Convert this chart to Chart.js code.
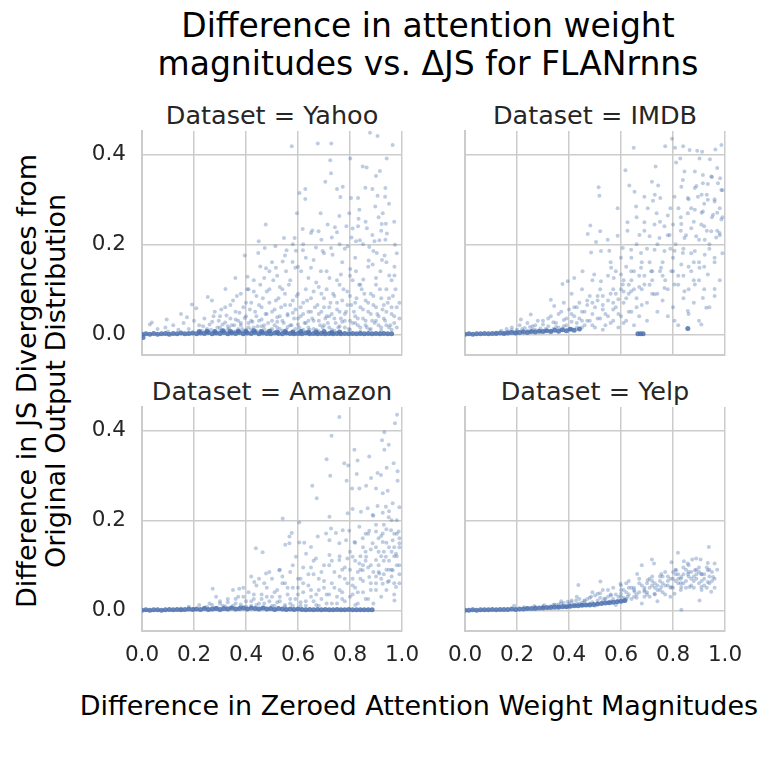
<!DOCTYPE html>
<html>
<head>
<meta charset="utf-8">
<script src="https://cdn.jsdelivr.net/npm/chart.js@4.4.1/dist/chart.umd.min.js"></script>
<style>
  body { margin: 0; background: #fff; width: 777px; height: 761px; position: relative; overflow: hidden; font-family: 'DejaVu Sans', sans-serif; }
  canvas { position: absolute; }
  .txt { position: absolute; white-space: nowrap; text-align: center; line-height: normal; }
</style>
</head>
<body>
<div class="txt" style="left:78px; top:7px; width:700px; font-size:33px; line-height:38px; color:#000;">Difference in attention weight<br>magnitudes vs. ΔJS for FLANrnns</div>
<div class="txt" style="left:72px; top:100px; width:400px; font-size:25.5px; color:#262626;">Dataset = Yahoo</div>
<div class="txt" style="left:395px; top:100px; width:400px; font-size:25.5px; color:#262626;">Dataset = IMDB</div>
<div class="txt" style="left:72px; top:376px; width:400px; font-size:25.5px; color:#262626;">Dataset = Amazon</div>
<div class="txt" style="left:395px; top:376px; width:400px; font-size:25.5px; color:#262626;">Dataset = Yelp</div>
<div class="txt" style="left:19px; top:690px; width:800px; font-size:27px; color:#000;">Difference in Zeroed Attention Weight Magnitudes</div>
<div class="txt" style="left:-259px; top:352px; width:600px; font-size:27px; line-height:29px; color:#000; transform:rotate(-90deg);">Difference in JS Divergences from<br>Original Output Distribution</div>

<canvas id="yahoo" width="346" height="270" style="left:80px; top:125px;"></canvas>
<canvas id="imdb" width="346" height="270" style="left:403px; top:125px;"></canvas>
<canvas id="amazon" width="346" height="270" style="left:80px; top:401px;"></canvas>
<canvas id="yelp" width="346" height="270" style="left:403px; top:401px;"></canvas>

<script>
// tick labels
const xTicks = [0, 0.2, 0.4, 0.6, 0.8, 1.0];
const yTicks = [0, 0.2, 0.4];

// Yahoo - scattered points
const yahooPts = [
  [0.576,0.418],[0.676,0.424],[0.728,0.424],[0.877,0.448],[0.906,0.441],[0.964,0.421],[0.724,0.387],[0.801,0.391],
  [0.849,0.373],[0.864,0.371],[0.915,0.363],[0.941,0.391],[0.900,0.352],[0.727,0.358],[0.705,0.339],[0.772,0.328],
  [0.750,0.323],[0.606,0.314],[0.628,0.323],[0.628,0.301],[0.763,0.305],[0.804,0.303],[0.831,0.303],[0.859,0.326],
  [0.886,0.323],[0.906,0.308],[0.935,0.306],[0.936,0.325],[0.897,0.284],[0.687,0.269],[0.596,0.269],[0.797,0.269],
  [0.759,0.263],[0.836,0.277],[0.910,0.260],[0.926,0.269],[0.476,0.244],[0.650,0.225],[0.655,0.231],[0.679,0.229],
  [0.618,0.234],[0.742,0.238],[0.786,0.240],[0.750,0.227],[0.714,0.244],[0.833,0.257],[0.831,0.240],[0.865,0.236],
  [0.922,0.245],[0.938,0.246],[0.886,0.221],[0.806,0.215],[0.823,0.207],[0.838,0.209],[0.894,0.207],[0.913,0.209],
  [0.936,0.210],[0.942,0.224],[0.973,0.199],[0.449,0.207],[0.395,0.175],[0.447,0.181],[0.472,0.192],[0.513,0.196],
  [0.546,0.214],[0.587,0.214],[0.556,0.187],[0.592,0.186],[0.619,0.187],[0.669,0.193],[0.727,0.192],[0.695,0.185],
  [0.733,0.177],[0.791,0.196],[0.874,0.194],[0.903,0.181],[0.933,0.175],[0.923,0.165],[0.872,0.164],[0.887,0.155],
  [0.971,0.150],[0.359,0.125],[0.406,0.128],[0.455,0.151],[0.477,0.147],[0.515,0.148],[0.541,0.162],[0.579,0.161],
  [0.554,0.140],[0.590,0.148],[0.612,0.140],[0.650,0.148],[0.688,0.140],[0.721,0.125],[0.765,0.133],[0.801,0.145],
  [0.823,0.140],[0.851,0.122],[0.917,0.140],[0.951,0.131],[0.971,0.131],[0.321,0.101],[0.253,0.083],[0.269,0.075],
  [0.192,0.066],[0.173,0.038],[0.209,0.058],[0.095,0.033],[0.038,0.026],
  [0.22,0.02],[0.24,0.035],[0.25,0.012],[0.27,0.028],[0.28,0.05],[0.29,0.015],[0.30,0.04],[0.31,0.022],[0.32,0.06],
  [0.33,0.01],[0.34,0.035],[0.35,0.075],[0.355,0.02],[0.36,0.05],[0.37,0.03],[0.38,0.09],[0.385,0.012],[0.39,0.06],
  [0.40,0.04],[0.405,0.1],[0.41,0.025],[0.42,0.07],[0.43,0.015],[0.435,0.05],[0.44,0.085],[0.45,0.03],[0.455,0.11],
  [0.46,0.06],[0.47,0.02],[0.475,0.045],[0.48,0.095],[0.49,0.07],[0.50,0.03],[0.505,0.12],[0.51,0.055],[0.52,0.015],
  [0.525,0.08],[0.53,0.04],[0.54,0.1],[0.545,0.025],[0.55,0.065],[0.56,0.045],[0.565,0.11],[0.57,0.02],[0.58,0.075],
  [0.585,0.035],[0.59,0.055],[0.60,0.09],[0.605,0.015],[0.61,0.04],[0.62,0.07],[0.625,0.025],[0.63,0.1],[0.64,0.05],
  [0.645,0.01],[0.65,0.08],[0.66,0.03],[0.665,0.06],[0.67,0.115],[0.68,0.045],[0.685,0.02],[0.69,0.09],[0.70,0.06],
  [0.705,0.035],[0.71,0.1],[0.72,0.015],[0.725,0.07],[0.73,0.045],[0.74,0.085],[0.745,0.025],[0.75,0.055],[0.76,0.11],
  [0.765,0.035],[0.77,0.075],[0.78,0.015],[0.785,0.05],[0.79,0.095],[0.80,0.03],[0.805,0.065],[0.81,0.12],[0.82,0.04],
  [0.825,0.08],[0.83,0.02],[0.84,0.06],[0.845,0.1],[0.85,0.035],[0.86,0.075],[0.865,0.015],[0.87,0.05],[0.88,0.09],
  [0.885,0.03],[0.89,0.065],[0.90,0.11],[0.905,0.045],[0.91,0.02],[0.92,0.08],[0.925,0.055],[0.93,0.035],[0.94,0.1],
  [0.945,0.07],[0.95,0.015],[0.96,0.045],[0.965,0.085],[0.97,0.025],[0.98,0.06],[0.99,0.035],
  [0.30,0.008],[0.33,0.018],[0.36,0.006],[0.38,0.025],[0.40,0.01],[0.42,0.03],[0.44,0.008],[0.46,0.018],[0.48,0.006],
  [0.50,0.012],[0.52,0.028],[0.54,0.008],[0.56,0.016],[0.58,0.006],[0.60,0.022],[0.62,0.01],[0.64,0.03],[0.66,0.012],
  [0.68,0.007],[0.70,0.02],[0.72,0.04],[0.74,0.008],[0.76,0.018],[0.78,0.03],[0.80,0.01],[0.82,0.025],[0.84,0.006],
  [0.86,0.02],[0.88,0.012],[0.90,0.03],[0.92,0.008],[0.94,0.02],[0.96,0.01],
  [0.03,0.022],[0.06,0.012],[0.09,0.015],[0.12,0.02],[0.14,0.01],[0.16,0.025],[0.18,0.012],[0.20,0.03],[0.15,0.045],[0.10,0.006],
  [0.23,0.008],[0.235,0.018],[0.245,0.005],[0.26,0.022],[0.265,0.01],[0.275,0.04],[0.28,0.007],[0.295,0.03],[0.30,0.015],
  [0.305,0.055],[0.315,0.009],[0.32,0.026],[0.325,0.042],[0.335,0.013],[0.34,0.065],[0.345,0.02],[0.35,0.006],[0.36,0.033],
  [0.365,0.085],[0.37,0.012],[0.375,0.048],[0.38,0.02],[0.39,0.007],[0.395,0.036],[0.40,0.07],[0.41,0.015],[0.415,0.055],
  [0.42,0.01],[0.425,0.028],[0.43,0.095],[0.44,0.04],[0.445,0.018],[0.45,0.065],[0.455,0.008],[0.46,0.033],[0.465,0.08],
  [0.47,0.012],[0.48,0.045],[0.485,0.025],[0.49,0.1],[0.495,0.009],[0.50,0.05],[0.51,0.02],[0.515,0.075],[0.52,0.038],
  [0.53,0.012],[0.535,0.06],[0.54,0.03],[0.55,0.09],[0.555,0.01],[0.56,0.042],[0.57,0.065],[0.575,0.02],[0.58,0.048],
  [0.59,0.012],[0.595,0.085],[0.60,0.035],[0.61,0.06],[0.615,0.008],[0.62,0.045],[0.63,0.025],[0.635,0.075],[0.64,0.015],
  [0.65,0.05],[0.655,0.035],[0.66,0.095],[0.67,0.01],[0.675,0.065],[0.68,0.03],[0.69,0.05],[0.695,0.015],[0.70,0.08],
  [0.71,0.04],[0.715,0.025],[0.72,0.06],[0.73,0.01],[0.735,0.09],[0.74,0.035],[0.75,0.07],[0.755,0.015],[0.76,0.05],
  [0.77,0.028],[0.775,0.1],[0.78,0.045],[0.79,0.065],[0.795,0.012],[0.80,0.085],[0.81,0.025],[0.815,0.05],[0.82,0.07],
  [0.83,0.035],[0.835,0.11],[0.84,0.015],[0.85,0.055],[0.855,0.09],[0.86,0.03],[0.87,0.07],[0.875,0.01],[0.88,0.045],
  [0.89,0.085],[0.895,0.025],[0.90,0.06],[0.91,0.04],[0.915,0.1],[0.92,0.015],[0.93,0.065],[0.935,0.03],[0.94,0.05],
  [0.95,0.08],[0.955,0.02],[0.96,0.06],[0.97,0.04],[0.975,0.1],[0.98,0.015],[0.99,0.07],
  [0.47,0.125],[0.50,0.16],[0.52,0.13],[0.55,0.175],[0.57,0.12],[0.60,0.15],[0.62,0.20],[0.64,0.125],[0.66,0.165],
  [0.68,0.105],[0.70,0.18],[0.71,0.14],[0.73,0.215],[0.75,0.12],[0.77,0.16],[0.78,0.19],[0.80,0.13],[0.82,0.17],
  [0.84,0.11],[0.85,0.20],[0.87,0.15],[0.89,0.185],[0.90,0.125],[0.92,0.23],[0.94,0.16],[0.96,0.12],[0.98,0.18],
  [0.97,0.25],[0.95,0.29],[0.86,0.25],[0.81,0.235],[0.76,0.20],[0.69,0.21],[0.63,0.17],[0.58,0.20],[0.53,0.105],
  [0.49,0.14],[0.43,0.12],[0.41,0.10]
];
// Yahoo - dense band at zero
const yahooBand = [
  [0,0],[0.004,-0.007],[0.015,0.001],[0.03,0],[0.045,0.002],[0.06,0],[0.075,0.001],[0.09,0.002],[0.105,0],[0.12,0.002],
  [0.135,0.001],[0.15,0.003],[0.165,0.001],[0.18,0.002],[0.195,0.003],[0.21,0.001],[0.225,0.003],[0.24,0.002],[0.255,0.004],
  [0.27,0.001],[0.285,0.003],[0.30,0.002],[0.315,0.004],[0.33,0.001],[0.345,0.003],[0.36,0.002],[0.375,0.004],[0.39,0.001],
  [0.405,0.003],[0.42,0.002],[0.435,0.004],[0.45,0.001],[0.465,0.003],[0.48,0.002],[0.495,0.001],[0.51,0.003],[0.525,0.002],
  [0.54,0.001],[0.555,0.003],[0.57,0.002],[0.585,0.001],[0.60,0.002],[0.615,0.001],[0.63,0.003],[0.645,0.001],[0.66,0.002],
  [0.675,0.001],[0.69,0.002],[0.705,0.001],[0.72,0.002],[0.735,0.001],[0.75,0.002],[0.765,0.001],[0.78,0.002],[0.795,0.001],
  [0.81,0.002],[0.825,0.001],[0.84,0.002],[0.855,0.001],[0.87,0.002],[0.885,0.001],[0.90,0.002],[0.915,0.001],[0.93,0.002],
  [0.945,0.001],[0.96,0.001],
  [0.22,0.006],[0.25,0.007],[0.28,0.006],[0.31,0.008],[0.34,0.006],[0.37,0.007],[0.40,0.006],[0.43,0.008],[0.46,0.006],
  [0.49,0.007],[0.52,0.005],[0.55,0.006],[0.58,0.005],[0.61,0.006],[0.64,0.005],[0.67,0.005],[0.70,0.006],[0.73,0.004],[0.76,0.005]
];

// IMDB - scattered points
const imdbPts = [
  [0.796,0.435],[0.649,0.415],[0.770,0.418],[0.808,0.415],[0.839,0.418],[0.864,0.410],[0.893,0.408],[0.912,0.406],
  [0.963,0.411],[0.986,0.421],[0.828,0.391],[0.812,0.382],[0.902,0.391],[0.942,0.389],[0.733,0.373],[0.617,0.365],
  [0.844,0.362],[0.884,0.362],[0.915,0.354],[0.947,0.351],[0.981,0.347],[0.632,0.331],[0.514,0.327],[0.719,0.339],
  [0.743,0.331],[0.838,0.343],[0.832,0.328],[0.884,0.325],[0.915,0.336],[0.934,0.334],[0.973,0.336],[0.986,0.321],
  [0.517,0.308],[0.652,0.317],[0.690,0.306],[0.723,0.297],[0.751,0.303],[0.806,0.306],[0.857,0.303],[0.896,0.306],
  [0.934,0.299],[0.960,0.295],[0.587,0.280],[0.658,0.284],[0.703,0.280],[0.737,0.269],[0.780,0.264],[0.821,0.280],
  [0.857,0.269],[0.884,0.277],[0.915,0.273],[0.954,0.266],[0.986,0.255],[0.482,0.242],[0.625,0.249],[0.690,0.249],
  [0.729,0.244],[0.767,0.240],[0.800,0.244],[0.832,0.245],[0.870,0.236],[0.909,0.244],[0.947,0.229],[0.979,0.225],
  [0.472,0.223],[0.520,0.229],[0.587,0.219],[0.625,0.230],[0.671,0.221],[0.710,0.218],[0.748,0.214],[0.787,0.221],
  [0.844,0.214],[0.889,0.218],[0.922,0.210],[0.966,0.215],[0.504,0.205],[0.549,0.210],[0.485,0.182],[0.523,0.185],
  [0.555,0.186],[0.607,0.192],[0.639,0.188],[0.677,0.181],[0.729,0.188],[0.767,0.185],[0.806,0.186],[0.838,0.181],
  [0.884,0.185],[0.922,0.177],[0.960,0.170],[0.395,0.118],[0.375,0.112],[0.420,0.125],[0.452,0.140],[0.497,0.133],
  [0.523,0.118],[0.562,0.148],[0.572,0.125],[0.600,0.133],[0.639,0.140],[0.677,0.148],[0.716,0.140],[0.754,0.148],
  [0.793,0.140],[0.832,0.155],[0.870,0.140],[0.902,0.148],[0.934,0.133],[0.960,0.101],[0.607,0.111],[0.639,0.096],
  [0.690,0.111],[0.729,0.089],[0.767,0.103],[0.806,0.111],[0.844,0.096],[0.884,0.111],[0.915,0.081],[0.928,0.059],
  [0.857,0.052],[0.909,0.022],[0.806,0.030],[0.330,0.077],[0.343,0.063],[0.253,0.044],[0.215,0.033],
  [0.12,0.004],[0.14,0.008],[0.15,0.003],[0.16,0.012],[0.17,0.006],[0.18,0.015],[0.19,0.004],[0.20,0.01],[0.21,0.02],
  [0.22,0.007],[0.23,0.014],[0.24,0.025],[0.25,0.005],[0.26,0.018],[0.27,0.01],[0.28,0.03],[0.29,0.006],[0.30,0.022],
  [0.31,0.012],[0.32,0.035],[0.33,0.008],[0.34,0.027],[0.35,0.016],[0.36,0.045],[0.37,0.01],[0.38,0.032],[0.39,0.02],
  [0.40,0.055],[0.41,0.012],[0.42,0.04],[0.43,0.025],[0.44,0.07],[0.45,0.015],[0.46,0.05],[0.47,0.03],[0.48,0.085],
  [0.49,0.02],[0.50,0.06],[0.51,0.035],[0.52,0.1],[0.53,0.01],[0.54,0.045],[0.55,0.075],[0.56,0.025],[0.57,0.055],
  [0.58,0.09],[0.59,0.015],[0.60,0.04],[0.61,0.07],[0.62,0.03],[0.63,0.11],[0.64,0.05],[0.65,0.02],[0.66,0.08],
  [0.67,0.04],[0.68,0.065],[0.70,0.03],[0.72,0.09],[0.74,0.05],[0.76,0.075],[0.78,0.04],[0.80,0.06],[0.82,0.02],
  [0.84,0.08],[0.86,0.045],[0.88,0.07],[0.90,0.03],[0.92,0.1],[0.94,0.06],[0.96,0.085],[0.98,0.12],
  [0.38,0.07],[0.41,0.09],[0.43,0.06],[0.45,0.1],[0.47,0.075],[0.49,0.12],[0.51,0.085],[0.53,0.065],[0.55,0.13],
  [0.57,0.1],[0.59,0.078],[0.61,0.12],[0.63,0.09],[0.65,0.14],[0.67,0.105],[0.69,0.13],
  [0.81,0.2],[0.83,0.26],[0.85,0.22],[0.86,0.3],[0.87,0.18],[0.88,0.25],[0.89,0.33],[0.90,0.21],[0.91,0.27],
  [0.92,0.24],[0.93,0.31],[0.94,0.19],[0.95,0.26],[0.96,0.30],[0.97,0.23],[0.98,0.28],[0.99,0.32],[0.95,0.35],
  [0.97,0.37],[0.99,0.26],[0.92,0.29],[0.90,0.16],[0.88,0.12],[0.86,0.15],[0.84,0.19],[0.82,0.13],[0.80,0.17],
  [0.78,0.22],[0.76,0.16],[0.74,0.20],[0.72,0.14],[0.70,0.19],[0.68,0.16],[0.66,0.20],[0.64,0.17],[0.62,0.15],
  [0.60,0.17],[0.58,0.14],[0.56,0.16],[0.75,0.25],[0.79,0.28],[0.73,0.31],[0.77,0.12],[0.71,0.11],[0.69,0.23],[0.66,0.26],
  [0.16,0.005],[0.18,0.009],[0.20,0.006],[0.22,0.012],[0.24,0.008],[0.25,0.016],[0.26,0.01],[0.27,0.02],[0.29,0.013],
  [0.30,0.03],[0.31,0.008],[0.32,0.018],[0.33,0.04],[0.34,0.012],[0.35,0.025],[0.36,0.015],[0.37,0.05],[0.38,0.018],
  [0.39,0.035],[0.40,0.012],[0.41,0.028],[0.42,0.06],[0.43,0.015],[0.44,0.035],[0.45,0.05],[0.46,0.02],[0.47,0.065],
  [0.48,0.03],[0.49,0.045],[0.50,0.015],[0.51,0.075],[0.52,0.035],[0.53,0.055],[0.54,0.02],[0.55,0.04],[0.56,0.09],
  [0.57,0.03],[0.58,0.06],[0.59,0.045],[0.60,0.1],[0.61,0.025],[0.62,0.08],[0.63,0.05],[0.64,0.12],[0.66,0.06],
  [0.68,0.1],[0.70,0.07],[0.72,0.12],[0.74,0.09],[0.76,0.13],[0.78,0.1],[0.80,0.14],[0.82,0.11],[0.84,0.13],
  [0.86,0.1],[0.88,0.16],[0.90,0.12],[0.92,0.15],[0.94,0.2],[0.96,0.16],[0.98,0.22],[0.99,0.18],[0.97,0.27],
  [0.93,0.23],[0.91,0.31],[0.87,0.28],[0.83,0.23],[0.79,0.19],[0.75,0.14],[0.71,0.16],[0.67,0.13],[0.65,0.1],
  [0.61,0.095],[0.57,0.07],[0.53,0.085],[0.49,0.07],[0.45,0.03],[0.41,0.045]
];
// IMDB - dense band at zero
const imdbBand = [
  [0,0],[0.015,0.001],[0.03,0],[0.045,0.001],[0.06,0.001],[0.075,0.002],[0.09,0.001],[0.105,0.002],[0.12,0.002],
  [0.135,0.003],[0.15,0.002],[0.165,0.003],[0.18,0.004],[0.195,0.003],[0.21,0.004],[0.225,0.005],[0.24,0.004],
  [0.255,0.006],[0.27,0.005],[0.285,0.007],[0.30,0.006],[0.315,0.008],[0.33,0.006],[0.345,0.009],[0.36,0.007],
  [0.375,0.01],[0.39,0.008],[0.405,0.011],[0.42,0.009],[0.44,0.012],
  [0.665,0.001],[0.675,0.001],[0.685,0.001],[0.857,0.013]
];

// Amazon - scattered points
const amazonPts = [
  [0.759,0.430],[0.981,0.435],[0.973,0.416],[0.932,0.396],[0.729,0.388],[0.923,0.378],[0.949,0.368],[0.932,0.357],
  [0.817,0.357],[0.710,0.336],[0.778,0.327],[0.793,0.322],[0.829,0.333],[0.874,0.342],[0.906,0.305],[0.941,0.317],
  [0.968,0.327],[0.983,0.309],[0.724,0.299],[0.826,0.303],[0.881,0.294],[0.919,0.301],[0.983,0.288],[0.655,0.277],
  [0.787,0.288],[0.808,0.271],[0.836,0.271],[0.862,0.277],[0.900,0.271],[0.926,0.260],[0.945,0.266],[0.672,0.249],
  [0.810,0.225],[0.868,0.227],[0.906,0.232],[0.938,0.230],[0.964,0.238],[0.990,0.229],[0.721,0.208],[0.791,0.216],
  [0.842,0.219],[0.887,0.212],[0.926,0.217],[0.949,0.207],[0.541,0.204],[0.605,0.195],[0.727,0.182],[0.708,0.171],
  [0.746,0.172],[0.772,0.178],[0.797,0.177],[0.836,0.186],[0.874,0.177],[0.900,0.175],[0.926,0.171],[0.958,0.178],
  [0.987,0.175],[0.576,0.172],[0.567,0.164],[0.567,0.149],[0.551,0.146],[0.605,0.151],[0.624,0.150],[0.650,0.141],
  [0.438,0.138],[0.464,0.129],[0.676,0.164],[0.721,0.156],[0.759,0.149],[0.785,0.156],[0.817,0.152],[0.849,0.160],
  [0.887,0.149],[0.926,0.152],[0.964,0.156],[0.990,0.149],[0.592,0.119],[0.631,0.126],[0.669,0.115],[0.721,0.123],
  [0.759,0.112],[0.810,0.119],[0.836,0.104],[0.862,0.119],[0.900,0.112],[0.938,0.119],[0.977,0.126],[0.849,0.089],
  [0.874,0.074],[0.913,0.082],[0.945,0.063],[0.964,0.089],[0.926,0.059],[0.971,0.022],[0.977,0.052],[0.272,0.048],
  [0.374,0.048],[0.432,0.063],[0.285,0.030],[0.528,0.089],[0.477,0.082],
  [0.15,0.004],[0.18,0.008],[0.20,0.003],[0.22,0.012],[0.24,0.006],[0.26,0.015],[0.28,0.005],[0.30,0.02],[0.31,0.01],
  [0.33,0.025],[0.34,0.006],[0.36,0.015],[0.37,0.03],[0.38,0.008],[0.40,0.02],[0.41,0.04],[0.42,0.01],[0.43,0.025],
  [0.45,0.015],[0.46,0.035],[0.47,0.006],[0.48,0.05],[0.49,0.02],[0.50,0.03],[0.51,0.01],[0.52,0.045],[0.53,0.02],
  [0.54,0.06],[0.55,0.008],[0.56,0.035],[0.57,0.015],[0.58,0.05],[0.59,0.025],[0.60,0.07],[0.61,0.01],[0.62,0.04],
  [0.63,0.02],[0.64,0.055],[0.65,0.03],[0.66,0.08],[0.67,0.012],[0.68,0.045],[0.69,0.025],[0.70,0.065],[0.71,0.035],
  [0.72,0.1],[0.73,0.015],[0.74,0.05],[0.75,0.03],[0.76,0.075],[0.77,0.04],[0.78,0.02],[0.79,0.06],[0.80,0.09],
  [0.81,0.035],[0.82,0.05],[0.83,0.015],[0.84,0.07],[0.85,0.04],[0.86,0.11],[0.87,0.025],[0.88,0.06],[0.89,0.085],
  [0.90,0.045],[0.91,0.1],[0.92,0.07],[0.93,0.13],[0.94,0.09],[0.95,0.11],[0.96,0.075],[0.97,0.14],[0.98,0.1],[0.99,0.16],
  [0.80,0.13],[0.82,0.15],[0.84,0.12],[0.86,0.17],[0.88,0.135],[0.90,0.19],[0.91,0.13],[0.92,0.165],[0.93,0.11],
  [0.94,0.18],[0.95,0.14],[0.96,0.20],[0.97,0.12],[0.98,0.17],[0.99,0.14],[0.95,0.09],[0.97,0.06],[0.99,0.08],
  [0.90,0.075],[0.87,0.095],[0.85,0.10],[0.83,0.085],[0.81,0.07],[0.78,0.095],[0.76,0.12],[0.74,0.085],[0.70,0.10],
  [0.68,0.07],[0.66,0.11],[0.64,0.08],[0.62,0.095],[0.60,0.05],[0.57,0.085],[0.55,0.06],[0.53,0.09],[0.50,0.07],
  [0.47,0.06],[0.44,0.055],[0.42,0.075],[0.39,0.05],[0.35,0.045],
  [0.25,0.008],[0.27,0.012],[0.29,0.006],[0.30,0.015],[0.32,0.009],[0.33,0.018],[0.35,0.01],[0.36,0.025],[0.38,0.013],
  [0.39,0.03],[0.40,0.008],[0.42,0.02],[0.43,0.035],[0.44,0.012],[0.46,0.025],[0.47,0.015],[0.48,0.03],[0.50,0.01],
  [0.51,0.04],[0.52,0.018],[0.53,0.03],[0.55,0.012],[0.56,0.05],[0.57,0.025],[0.58,0.01],[0.60,0.035],[0.61,0.018],
  [0.62,0.06],[0.63,0.01],[0.65,0.045],[0.66,0.02],[0.67,0.035],[0.68,0.01],[0.70,0.05],[0.71,0.015],[0.72,0.035],
  [0.73,0.06],[0.75,0.015],[0.76,0.045],[0.77,0.025],[0.78,0.07],[0.80,0.03],[0.81,0.055],[0.82,0.012],[0.83,0.04],
  [0.85,0.065],[0.86,0.025],[0.88,0.045],[0.89,0.015],[0.90,0.06],[0.92,0.03],[0.93,0.08],[0.94,0.045],[0.96,0.09],
  [0.97,0.035],[0.98,0.12],[0.99,0.06],[0.96,0.13],[0.94,0.15],[0.92,0.12],[0.90,0.14],[0.88,0.10],[0.86,0.13],
  [0.84,0.09],[0.82,0.11],[0.98,0.20],[0.97,0.17],[0.95,0.22],[0.93,0.19],[0.91,0.16],[0.89,0.21],[0.87,0.17],
  [0.85,0.14],[0.99,0.10],[0.95,0.065],[0.91,0.085],[0.79,0.115],[0.77,0.09],[0.73,0.11],[0.69,0.085],[0.65,0.095],
  [0.61,0.07],[0.58,0.10],[0.54,0.075],[0.49,0.085],[0.45,0.07]
];
// Amazon - dense band at zero
const amazonBand = [
  [0,0],[0.015,0.001],[0.03,0],[0.045,0.001],[0.06,0.001],[0.075,0],[0.09,0.001],[0.105,0.002],[0.12,0.001],
  [0.135,0.002],[0.15,0.001],[0.165,0.002],[0.18,0.003],[0.195,0.002],[0.21,0.003],[0.225,0.002],[0.24,0.004],
  [0.255,0.002],[0.27,0.003],[0.285,0.004],[0.30,0.002],[0.315,0.004],[0.33,0.003],[0.345,0.005],[0.36,0.003],
  [0.375,0.004],[0.39,0.005],[0.405,0.003],[0.42,0.005],[0.435,0.004],[0.45,0.003],[0.465,0.005],[0.48,0.003],
  [0.495,0.004],[0.51,0.002],[0.525,0.004],[0.54,0.003],[0.555,0.002],[0.57,0.003],[0.585,0.002],[0.60,0.003],
  [0.615,0.002],[0.63,0.001],[0.645,0.002],[0.66,0.001],[0.675,0.002],[0.69,0.001],[0.705,0.002],[0.72,0.001],
  [0.735,0.001],[0.75,0.002],[0.765,0.001],[0.78,0.001],[0.795,0.002],[0.81,0.001],[0.825,0.001],[0.84,0.001],
  [0.855,0.001],[0.87,0.001],[0.885,0.001]
];

// Yelp - scattered points
const yelpPts = [
  [0.938,0.141],[0.819,0.128],[0.719,0.113],[0.727,0.104],[0.680,0.100],[0.842,0.109],[0.874,0.113],[0.889,0.115],
  [0.906,0.113],[0.857,0.104],[0.934,0.105],[0.960,0.104],[0.436,0.056],[0.521,0.064],[0.598,0.059],[0.662,0.081],
  [0.703,0.067],[0.755,0.081],[0.794,0.107],[0.812,0.089],[0.832,0.074],[0.857,0.081],[0.884,0.089],[0.909,0.081],
  [0.934,0.089],[0.954,0.074],[0.947,0.041],[0.902,0.022],[0.832,0.001],[0.864,0.052],[0.909,0.052],[0.934,0.063],
  [0.832,0.052],[0.806,0.037],[0.794,0.052],[0.755,0.052],[0.729,0.037],[0.690,0.041],[0.652,0.041],[0.626,0.030],
  [0.600,0.037],[0.562,0.033],[0.536,0.026],[0.510,0.037],[0.485,0.030],[0.459,0.022],[0.427,0.022],[0.395,0.019],
  [0.369,0.015],[0.343,0.013],[0.305,0.011],[0.266,0.009],[0.189,0.010],[0.228,0.007],
  [0.35,0.012],[0.37,0.02],[0.39,0.008],[0.41,0.018],[0.43,0.03],[0.45,0.012],[0.47,0.025],[0.49,0.04],[0.50,0.01],
  [0.52,0.028],[0.53,0.045],[0.55,0.018],[0.56,0.035],[0.57,0.05],[0.58,0.012],[0.59,0.03],[0.60,0.055],[0.61,0.02],
  [0.62,0.04],[0.63,0.065],[0.64,0.025],[0.65,0.05],[0.66,0.035],[0.67,0.07],[0.68,0.015],[0.69,0.045],[0.70,0.06],
  [0.71,0.03],[0.72,0.075],[0.73,0.05],[0.74,0.02],[0.75,0.065],[0.76,0.04],[0.77,0.085],[0.78,0.055],[0.79,0.03],
  [0.80,0.07],[0.81,0.09],[0.82,0.06],[0.83,0.045],[0.84,0.08],[0.85,0.065],[0.86,0.10],[0.87,0.055],[0.88,0.075],
  [0.89,0.09],[0.90,0.06],[0.91,0.08],[0.92,0.07],[0.93,0.095],[0.94,0.06],[0.95,0.085],[0.96,0.07],[0.97,0.09],
  [0.88,0.05],[0.90,0.085],[0.92,0.055],[0.86,0.075],[0.84,0.06],[0.82,0.08],[0.80,0.05],[0.78,0.075],[0.76,0.06],
  [0.74,0.045],[0.72,0.055],[0.70,0.04],[0.94,0.075],[0.96,0.05],[0.91,0.065],[0.89,0.07],[0.87,0.085],[0.85,0.05],
  [0.83,0.07],[0.81,0.065],[0.79,0.05],[0.77,0.035],[0.75,0.045],[0.73,0.035],[0.71,0.05],[0.69,0.03],[0.67,0.04],
  [0.65,0.03],[0.63,0.035],[0.61,0.028],[0.59,0.022],[0.57,0.025],[0.55,0.03],[0.53,0.02],[0.51,0.022],[0.48,0.015],
  [0.46,0.02],[0.44,0.015],[0.42,0.012],[0.40,0.014],[0.38,0.01],[0.36,0.008],[0.33,0.009],[0.30,0.006],[0.27,0.008],[0.24,0.005],
  [0.30,0.009],[0.32,0.005],[0.34,0.011],[0.36,0.013],[0.38,0.016],[0.40,0.009],[0.41,0.022],[0.43,0.014],[0.44,0.025],
  [0.45,0.017],[0.47,0.012],[0.48,0.028],[0.49,0.018],[0.50,0.033],[0.51,0.015],[0.52,0.038],[0.54,0.025],[0.55,0.045],
  [0.56,0.02],[0.58,0.035],[0.60,0.03],[0.61,0.045],[0.62,0.025],[0.64,0.05],[0.66,0.028],[0.68,0.055],[0.70,0.035],
  [0.72,0.065],[0.74,0.055],[0.76,0.075],[0.78,0.065],[0.80,0.085],[0.82,0.07],[0.84,0.095],[0.86,0.085],[0.88,0.065],
  [0.90,0.095],[0.92,0.08],[0.94,0.09],[0.95,0.065],[0.93,0.05],[0.91,0.045],[0.89,0.08],[0.87,0.07],[0.85,0.09],
  [0.83,0.06],[0.81,0.08],[0.79,0.07],[0.77,0.055],[0.75,0.075],[0.73,0.06],[0.71,0.07],[0.69,0.05],[0.67,0.06],
  [0.65,0.045],[0.63,0.05],[0.62,0.06],[0.60,0.045]
];
// Yelp - dense band near zero
const yelpBand = [
  [0,0],[0.015,0],[0.03,0.001],[0.045,0],[0.06,0.001],[0.075,0.001],[0.09,0.001],[0.105,0.002],[0.12,0.001],
  [0.135,0.002],[0.15,0.002],[0.165,0.002],[0.18,0.003],[0.195,0.002],[0.21,0.003],[0.225,0.003],[0.24,0.004],
  [0.255,0.004],[0.27,0.004],[0.285,0.005],[0.30,0.005],[0.315,0.006],[0.33,0.006],[0.345,0.007],[0.36,0.007],
  [0.375,0.008],[0.39,0.008],[0.405,0.009],[0.42,0.01],[0.435,0.01],[0.45,0.011],[0.465,0.012],[0.48,0.012],
  [0.495,0.013],[0.51,0.014],[0.525,0.015],[0.54,0.016],[0.555,0.017],[0.57,0.018],[0.585,0.019],[0.60,0.02],[0.615,0.022]
];

// drop the label padding Chart.js adds so every panel gets the same plot box
function noPad(s) {
  s.paddingTop = 0; s.paddingBottom = 0; s.paddingLeft = 0; s.paddingRight = 0;
}

function panel(id, pts, band, showX, showY) {
  var ctx = document.getElementById(id);
  new Chart(ctx, {
    type: 'scatter',
    data: {
      datasets: [{
        data: pts.map(p => ({x: p[0], y: p[1]})),
        pointRadius: 2,
        borderWidth: 0,
        backgroundColor: 'rgba(76, 114, 176, 0.36)'
      }, {
        data: band.map(p => ({x: p[0], y: p[1]})),
        pointRadius: 2.5,
        borderWidth: 0,
        backgroundColor: 'rgba(76, 114, 176, 0.85)'
      }]
    },
    options: {
      responsive: false,
      animation: false,
      events: [],
      layout: { padding: { top: 6, right: 24, left: 0, bottom: 0 } },
      plugins: { legend: { display: false }, tooltip: { enabled: false } },
      scales: {
        x: {
          type: 'linear', min: 0, max: 1,
          afterBuildTicks: s => { s.ticks = xTicks.map(v => ({value: v})); },
          afterFit: s => { s.height = 40; noPad(s); },
          grid: { color: '#cccccc', lineWidth: 1.5, drawTicks: false },
          border: { color: '#cccccc', width: 2 },
          ticks: {
            display: showX, padding: 12, maxRotation: 0, autoSkip: false,
            color: '#262626', font: { family: 'DejaVu Sans', size: 21.5 },
            callback: v => v.toFixed(1)
          }
        },
        y: {
          type: 'linear', min: -0.046, max: 0.452,
          afterBuildTicks: s => { s.ticks = yTicks.map(v => ({value: v})); },
          afterFit: s => { s.width = 62; noPad(s); },
          grid: { color: '#cccccc', lineWidth: 1.5, drawTicks: false },
          border: { color: '#cccccc', width: 2 },
          ticks: {
            display: showY, padding: 16,
            color: '#262626', font: { family: 'DejaVu Sans', size: 21.5 },
            callback: v => v.toFixed(1)
          }
        }
      }
    }
  });
}

panel('yahoo', yahooPts, yahooBand, false, true);
panel('imdb', imdbPts, imdbBand, false, false);
panel('amazon', amazonPts, amazonBand, true, true);
panel('yelp', yelpPts, yelpBand, true, false);
</script>
</body>
</html>
